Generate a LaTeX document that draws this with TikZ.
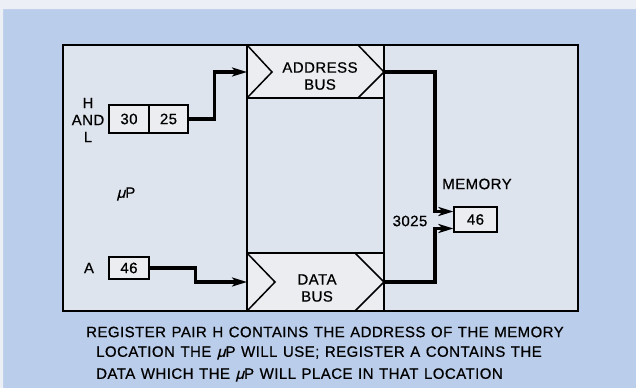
\documentclass[tikz,border=0pt]{standalone}
\usepackage{fontspec}
\setmainfont{Liberation Sans}[LetterSpace=3,WordSpace=1.2,FakeBold=0.6]
\usetikzlibrary{arrows.meta}

\definecolor{page}{RGB}{186,205,234}
\definecolor{panel}{RGB}{222,228,238}
\definecolor{band}{RGB}{236,237,240}
\definecolor{edge}{RGB}{236,240,246}

\newcommand\mup{{\addfontfeature{FakeSlant=0.25}μ}P}

\begin{document}
\begin{tikzpicture}[
  x=1pt,y=-1pt,
  reg/.style={draw,line width=1.2pt,fill=band,inner sep=0pt,minimum height=22pt},
  label/.style={inner sep=0pt,align=center},
  wire/.style={line width=1.5pt},
  feed/.style={-{Stealth[length=15pt,width=9pt,inset=4pt]},line width=3.5pt},
  every node/.append style={font=\fontsize{15}{17}\selectfont}
]
  \useasboundingbox[fill=page] (0,0) rectangle (636,388);
  \fill[edge] (0,0) rectangle (636,9) (0,0) rectangle (3,388);

  % panel and bus column
  \draw[wire,fill=panel] (63,45) rectangle (578,311);
  \draw[wire,fill=band] (247,45) rectangle (384,98);
  \draw[wire,fill=band] (247,253) rectangle (384,311);
  \draw[wire] (247,98) -- (247,253) (384,98) -- (384,253);
  \draw[wire] (247,45) -- (272,72) -- (247,98) (358,45) -- (384,72) -- (358,98);
  \draw[wire] (247,253) -- (275,282) -- (247,311) (355,253) -- (384,282) -- (355,311);

  \coordinate (addrin) at (247,72);
  \coordinate (addrout) at (384,72);
  \coordinate (datain) at (247,282);
  \coordinate (dataout) at (384,282);

  \node[label] (addrbus) at (320,76) {ADDRESS\\BUS};
  \node[label] (databus) at (317,288) {DATA\\BUS};

  % registers
  \node[label] (hl) at (88,120) {H\\AND\\L};
  \node[reg,minimum width=40pt,minimum height=28pt] (hreg) at (129,119) {30};
  \node[reg,minimum width=39pt,minimum height=28pt] (lreg) at (168.5,119) {25};
  \node[label] (up) at (126,194) {\mup};
  \node[label] (alabel) at (89,268) {A};
  \node[reg,minimum width=40pt] (areg) at (129,268) {46};

  % memory
  \node[label] (memlabel) at (477,184) {MEMORY};
  \node[reg,minimum width=43pt,minimum height=25pt] (mem) at (475.5,219.5) {46};
  \node[label] (where) at (410,221) {3025};

  \draw[feed] (lreg.east) -- ++(26,0) |- (addrin);
  \draw[feed] (areg.east) -- ++(46,0) |- (datain);
  \draw[feed] (addrout) -- ++(51,0) |- ([yshift=8pt]mem.west);
  \draw[feed] (dataout) -- ++(51,0) |- ([yshift=-9pt]mem.west);

  % caption
  \node[label,anchor=west] (cap1) at (86,332) {REGISTER PAIR H CONTAINS THE ADDRESS OF THE MEMORY};
  \node[label,anchor=west] (cap2) at (96,353) {LOCATION THE \mup{} WILL USE; REGISTER A CONTAINS THE};
  \node[label,anchor=west] (cap3) at (96,375) {DATA WHICH THE \mup{} WILL PLACE IN THAT LOCATION};
\end{tikzpicture}
\end{document}
